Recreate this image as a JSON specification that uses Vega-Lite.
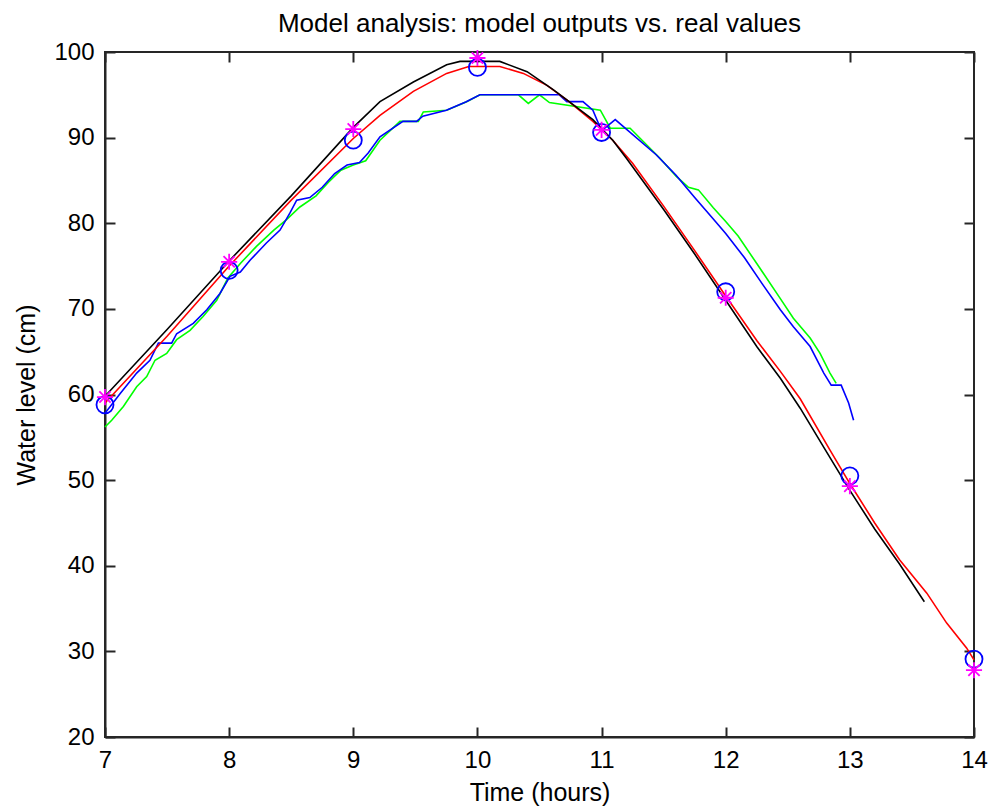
{
  "$schema": "https://vega.github.io/schema/vega-lite/v6.json",
  "width": 869,
  "height": 685,
  "autosize": {"type": "none"},
  "padding": {"left": 105, "top": 52, "right": 14, "bottom": 70},
  "background": "white",
  "title": {
    "text": "Model analysis: model outputs vs. real values",
    "font": "Liberation Sans",
    "fontSize": 26,
    "fontWeight": "normal",
    "color": "#000000",
    "anchor": "middle",
    "offset": 3
  },
  "config": {
    "view": {"stroke": "#262626", "strokeWidth": 2},
    "axis": {
      "grid": false,
      "domainColor": "#262626",
      "domainWidth": 2,
      "tickColor": "#262626",
      "tickWidth": 2,
      "tickSize": -10,
      "labelPadding": 21,
      "labelFont": "Liberation Sans",
      "labelFontSize": 24,
      "labelColor": "#000000",
      "labelFlush": false,
      "labelOverlap": false,
      "titleFont": "Liberation Sans",
      "titleFontSize": 25,
      "titleFontWeight": "normal",
      "titleColor": "#000000"
    }
  },
  "datasets": {
    "black": [
      {"t": 7.0, "level": 59.8}, {"t": 7.5, "level": 67.6}, {"t": 8.0, "level": 75.6}, {"t": 8.5, "level": 83.2},
      {"t": 9.0, "level": 91.2}, {"t": 9.215, "level": 94.2}, {"t": 9.484, "level": 96.5}, {"t": 9.752, "level": 98.5},
      {"t": 9.86, "level": 98.9}, {"t": 10.18, "level": 98.9}, {"t": 10.4, "level": 97.7}, {"t": 10.61, "level": 95.6},
      {"t": 10.72, "level": 94.4}, {"t": 10.93, "level": 92.1}, {"t": 11.09, "level": 89.7}, {"t": 11.2, "level": 87.6},
      {"t": 11.5, "level": 81.6}, {"t": 11.75, "level": 76.4}, {"t": 12.0, "level": 71.0}, {"t": 12.25, "level": 65.6},
      {"t": 12.44, "level": 61.9}, {"t": 12.6, "level": 58.4}, {"t": 12.8, "level": 53.6}, {"t": 13.0, "level": 48.8},
      {"t": 13.2, "level": 44.3}, {"t": 13.4, "level": 40.2}, {"t": 13.6, "level": 35.8}
    ],
    "red": [
      {"t": 7.0, "level": 59.0}, {"t": 7.5, "level": 66.8}, {"t": 8.0, "level": 75.0}, {"t": 8.5, "level": 82.7},
      {"t": 9.0, "level": 89.9}, {"t": 9.215, "level": 92.6}, {"t": 9.484, "level": 95.4}, {"t": 9.752, "level": 97.5},
      {"t": 9.93, "level": 98.3}, {"t": 10.18, "level": 98.3}, {"t": 10.37, "level": 97.5}, {"t": 10.56, "level": 96.1},
      {"t": 10.72, "level": 94.4}, {"t": 10.93, "level": 91.9}, {"t": 11.09, "level": 89.7}, {"t": 11.25, "level": 87.0},
      {"t": 11.5, "level": 82.0}, {"t": 11.75, "level": 76.8}, {"t": 12.0, "level": 71.5}, {"t": 12.25, "level": 66.3},
      {"t": 12.44, "level": 62.7}, {"t": 12.6, "level": 59.5}, {"t": 12.84, "level": 53.5}, {"t": 13.0, "level": 49.6},
      {"t": 13.2, "level": 45.0}, {"t": 13.4, "level": 40.7}, {"t": 13.62, "level": 36.8}, {"t": 13.78, "level": 33.3},
      {"t": 13.94, "level": 30.4}, {"t": 14.0, "level": 29.0}
    ],
    "green": [
      {"t": 7.0, "level": 56.2}, {"t": 7.054, "level": 57.0}, {"t": 7.148, "level": 58.6}, {"t": 7.255, "level": 60.9},
      {"t": 7.336, "level": 62.1}, {"t": 7.403, "level": 64.0}, {"t": 7.497, "level": 64.8}, {"t": 7.577, "level": 66.4},
      {"t": 7.685, "level": 67.5}, {"t": 7.79, "level": 69.1}, {"t": 7.9, "level": 71.0}, {"t": 7.99, "level": 73.6},
      {"t": 8.09, "level": 75.3}, {"t": 8.22, "level": 77.3}, {"t": 8.36, "level": 79.2}, {"t": 8.46, "level": 80.4},
      {"t": 8.57, "level": 81.9}, {"t": 8.7, "level": 83.2}, {"t": 8.8, "level": 84.8}, {"t": 8.9, "level": 86.2},
      {"t": 9.0, "level": 86.8}, {"t": 9.1, "level": 87.3}, {"t": 9.215, "level": 89.7}, {"t": 9.376, "level": 91.9},
      {"t": 9.524, "level": 91.9}, {"t": 9.564, "level": 93.0}, {"t": 9.752, "level": 93.2}, {"t": 9.913, "level": 94.2},
      {"t": 10.02, "level": 95.0}, {"t": 10.33, "level": 95.0}, {"t": 10.41, "level": 94.0}, {"t": 10.5, "level": 95.0},
      {"t": 10.58, "level": 94.1}, {"t": 10.99, "level": 93.2}, {"t": 11.07, "level": 91.1}, {"t": 11.23, "level": 91.1},
      {"t": 11.47, "level": 87.6}, {"t": 11.6, "level": 85.5}, {"t": 11.7, "level": 84.2}, {"t": 11.78, "level": 83.9},
      {"t": 11.9, "level": 81.8}, {"t": 12.0, "level": 80.2}, {"t": 12.1, "level": 78.5}, {"t": 12.25, "level": 75.3},
      {"t": 12.44, "level": 71.2}, {"t": 12.545, "level": 68.9}, {"t": 12.68, "level": 66.6}, {"t": 12.76, "level": 64.8},
      {"t": 12.84, "level": 62.5}, {"t": 12.89, "level": 61.3}
    ],
    "blue": [
      {"t": 7.0, "level": 57.8}, {"t": 7.121, "level": 60.1}, {"t": 7.255, "level": 62.5}, {"t": 7.362, "level": 64.0},
      {"t": 7.43, "level": 66.0}, {"t": 7.537, "level": 66.0}, {"t": 7.577, "level": 67.1}, {"t": 7.711, "level": 68.3},
      {"t": 7.82, "level": 69.9}, {"t": 7.926, "level": 71.8}, {"t": 8.007, "level": 73.8}, {"t": 8.09, "level": 74.3},
      {"t": 8.17, "level": 75.7}, {"t": 8.3, "level": 77.7}, {"t": 8.41, "level": 79.2}, {"t": 8.49, "level": 81.2},
      {"t": 8.544, "level": 82.7}, {"t": 8.65, "level": 83.0}, {"t": 8.75, "level": 84.2}, {"t": 8.85, "level": 85.8},
      {"t": 8.95, "level": 86.8}, {"t": 9.05, "level": 87.1}, {"t": 9.12, "level": 88.2}, {"t": 9.215, "level": 90.1},
      {"t": 9.4, "level": 91.9}, {"t": 9.51, "level": 91.9}, {"t": 9.56, "level": 92.5}, {"t": 9.75, "level": 93.2},
      {"t": 9.91, "level": 94.2}, {"t": 10.02, "level": 95.0}, {"t": 10.66, "level": 95.0}, {"t": 10.72, "level": 94.2},
      {"t": 10.85, "level": 94.2}, {"t": 10.93, "level": 93.2}, {"t": 11.0, "level": 90.8}, {"t": 11.11, "level": 92.1},
      {"t": 11.44, "level": 88.0}, {"t": 11.6, "level": 85.6}, {"t": 11.75, "level": 83.0}, {"t": 11.9, "level": 80.5},
      {"t": 12.0, "level": 78.8}, {"t": 12.15, "level": 76.0}, {"t": 12.3, "level": 72.8}, {"t": 12.44, "level": 69.9},
      {"t": 12.545, "level": 67.9}, {"t": 12.68, "level": 65.6}, {"t": 12.79, "level": 62.5}, {"t": 12.85, "level": 61.1},
      {"t": 12.93, "level": 61.1}, {"t": 12.99, "level": 59.0}, {"t": 13.03, "level": 57.0}
    ],
    "circles": [
      {"t": 7, "level": 58.8}, {"t": 8, "level": 74.5}, {"t": 9, "level": 89.7}, {"t": 10, "level": 98.2},
      {"t": 11, "level": 90.6}, {"t": 12, "level": 72.0}, {"t": 13, "level": 50.5}, {"t": 14, "level": 29.1}
    ],
    "stars": [
      {"t": 7, "level": 59.7}, {"t": 8, "level": 75.5}, {"t": 9, "level": 91.0}, {"t": 10, "level": 99.3},
      {"t": 11, "level": 90.9}, {"t": 12, "level": 71.3}, {"t": 13, "level": 49.3}, {"t": 14, "level": 27.8}
    ]
  },
  "layer": [
    {
      "data": {"name": "green"},
      "mark": {"type": "line", "color": "#00FF00", "strokeWidth": 1.6},
      "encoding": {
        "x": {"field": "t", "type": "quantitative", "scale": {"domain": [7, 14], "nice": false, "zero": false},
              "axis": {"orient": "bottom", "values": [7, 8, 9, 10, 11, 12, 13, 14], "format": "d", "title": "Time (hours)", "titlePadding": 8}},
        "y": {"field": "level", "type": "quantitative", "scale": {"domain": [20, 100], "nice": false, "zero": false},
              "axis": {"orient": "left", "values": [20, 30, 40, 50, 60, 70, 80, 90, 100], "format": "d", "title": "Water level (cm)", "titlePadding": 14}}
      }
    },
    {
      "data": {"name": "blue"},
      "mark": {"type": "line", "color": "#0000FF", "strokeWidth": 1.6},
      "encoding": {
        "x": {"field": "t", "type": "quantitative", "axis": null},
        "y": {"field": "level", "type": "quantitative", "axis": null}
      }
    },
    {
      "data": {"name": "red"},
      "mark": {"type": "line", "color": "#FF0000", "strokeWidth": 1.6},
      "encoding": {
        "x": {"field": "t", "type": "quantitative", "axis": null},
        "y": {"field": "level", "type": "quantitative", "axis": null}
      }
    },
    {
      "data": {"name": "black"},
      "mark": {"type": "line", "color": "#000000", "strokeWidth": 1.6},
      "encoding": {
        "x": {"field": "t", "type": "quantitative", "axis": null},
        "y": {"field": "level", "type": "quantitative", "axis": null}
      }
    },
    {
      "data": {"name": "circles"},
      "mark": {"type": "point", "shape": "circle", "filled": false, "color": "#0000FF", "strokeWidth": 1.8, "size": 290, "opacity": 1},
      "encoding": {
        "x": {"field": "t", "type": "quantitative", "axis": null},
        "y": {"field": "level", "type": "quantitative", "axis": null}
      }
    },
    {
      "data": {"name": "stars"},
      "mark": {"type": "point", "shape": "M-1,0H1M0,-1V1M-0.7,-0.7L0.7,0.7M-0.7,0.7L0.7,-0.7", "filled": false, "color": "#FF00FF", "strokeWidth": 1.8, "size": 260, "opacity": 1},
      "encoding": {
        "x": {"field": "t", "type": "quantitative", "axis": null},
        "y": {"field": "level", "type": "quantitative", "axis": null}
      }
    },
    {
      "data": {"name": "stars"},
      "mark": {"type": "point", "opacity": 0},
      "encoding": {
        "x": {"field": "t", "type": "quantitative",
              "axis": {"orient": "top", "values": [7, 8, 9, 10, 11, 12, 13, 14], "labels": false, "domain": false, "title": null}},
        "y": {"field": "level", "type": "quantitative",
              "axis": {"orient": "right", "values": [20, 30, 40, 50, 60, 70, 80, 90, 100], "labels": false, "domain": false, "title": null}}
      }
    }
  ],
  "resolve": {"axis": {"x": "independent", "y": "independent"}}
}
